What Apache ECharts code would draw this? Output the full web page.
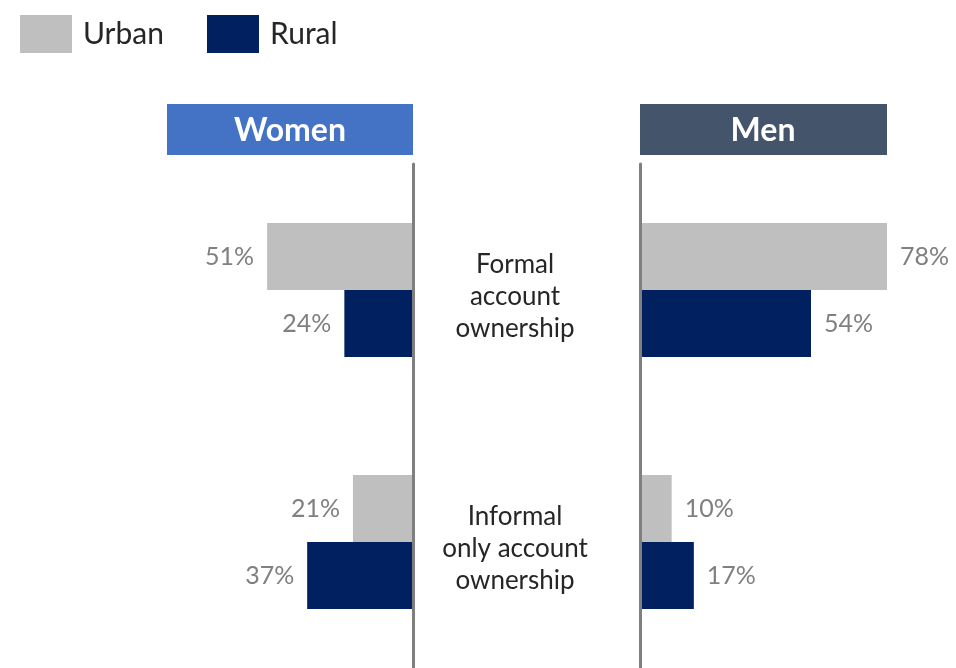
<!DOCTYPE html>
<html>
<head>
<meta charset="utf-8">
<style>
  html, body { margin: 0; padding: 0; background: #ffffff; }
  #chart { width: 956px; height: 668px; }
</style>
<script src="https://cdn.jsdelivr.net/npm/echarts@6/dist/echarts.min.js"></script>
</head>
<body>
<div id="chart"></div>
<script>
// Account ownership by area (urban / rural), split by gender
const categories = ['Formal\naccount\nownership', 'Informal\nonly account\nownership'];
const seriesNames = ['Urban', 'Rural'];
const panelTitles = ['Women', 'Men'];
const urbanWomen = [51, 21];
const ruralWomen = [24, 37];
const urbanMen = [78, 10];
const ruralMen = [54, 17];

const FONT = 'Lato, "Noto Sans", sans-serif';
const URBAN_COLOR = '#BFBFBF';
const RURAL_COLOR = '#002060';
const AXIS_LINE = { show: true, lineStyle: { color: '#7F7F7F', width: 3 } };

function barSeries(name, data, gridIdx, color, side) {
  return {
    type: 'bar',
    name: name,
    xAxisIndex: gridIdx,
    yAxisIndex: gridIdx,
    data: data,
    barWidth: 67,
    barGap: '0%',
    itemStyle: { color: color },
    label: {
      show: true,
      position: side,
      distance: 13,
      formatter: '{c}%',
      color: '#808080',
      fontFamily: FONT,
      fontSize: 25
    }
  };
}

// category text sits a little below the band centre: a short spacer line on top
function categoryLabel(value) {
  return '{gap|}\n' + value.split('\n').map(function (line) { return '{t|' + line + '}'; }).join('\n');
}

const chart = echarts.init(document.getElementById('chart'), null, { renderer: 'canvas' });

chart.setOption({
  animation: false,
  backgroundColor: '#ffffff',
  legend: {
    data: seriesNames,
    left: 20,
    top: 15,
    padding: 0,
    icon: 'rect',
    itemWidth: 52,
    itemHeight: 38,
    itemGap: 43,
    textStyle: {
      fontFamily: FONT,
      fontSize: 30,
      color: '#262626',
      padding: [0, 0, 0, 6]
    }
  },
  grid: [
    { left: 167, right: 543, top: 164, bottom: 0 },
    { left: 640, right: 69, top: 164, bottom: 0 }
  ],
  xAxis: [
    { type: 'value', gridIndex: 0, inverse: true, min: 0, max: 86, show: false },
    { type: 'value', gridIndex: 1, min: 0, max: 78, show: false }
  ],
  yAxis: [
    {
      type: 'category', gridIndex: 0, inverse: true, position: 'right',
      data: categories, z: 5,
      axisLine: AXIS_LINE,
      axisTick: { show: false },
      axisLabel: {
        align: 'center',
        margin: 102,
        formatter: categoryLabel,
        rich: {
          gap: { fontSize: 1, lineHeight: 14 },
          t: { fontFamily: FONT, fontSize: 26, lineHeight: 32, color: '#262626', align: 'center' }
        }
      }
    },
    {
      type: 'category', gridIndex: 1, inverse: true, position: 'left',
      data: categories, z: 5,
      axisLine: AXIS_LINE,
      axisTick: { show: false },
      axisLabel: { show: false }
    }
  ],
  graphic: [
    {
      type: 'group', left: 167, top: 104,
      children: [
        { type: 'rect', shape: { x: 0, y: 0, width: 246, height: 51 }, style: { fill: '#4472C4' } },
        { type: 'text', x: 123, y: 27, style: { text: panelTitles[0], fill: '#ffffff', font: 'bold 32px ' + FONT, align: 'center', verticalAlign: 'middle' } }
      ]
    },
    {
      type: 'group', left: 640, top: 104,
      children: [
        { type: 'rect', shape: { x: 0, y: 0, width: 247, height: 51 }, style: { fill: '#44546A' } },
        { type: 'text', x: 123, y: 27, style: { text: panelTitles[1], fill: '#ffffff', font: 'bold 32px ' + FONT, align: 'center', verticalAlign: 'middle' } }
      ]
    }
  ],
  series: [
    barSeries(seriesNames[0], urbanWomen, 0, URBAN_COLOR, 'left'),
    barSeries(seriesNames[1], ruralWomen, 0, RURAL_COLOR, 'left'),
    barSeries(seriesNames[0], urbanMen, 1, URBAN_COLOR, 'right'),
    barSeries(seriesNames[1], ruralMen, 1, RURAL_COLOR, 'right')
  ]
});
</script>
</body>
</html>
